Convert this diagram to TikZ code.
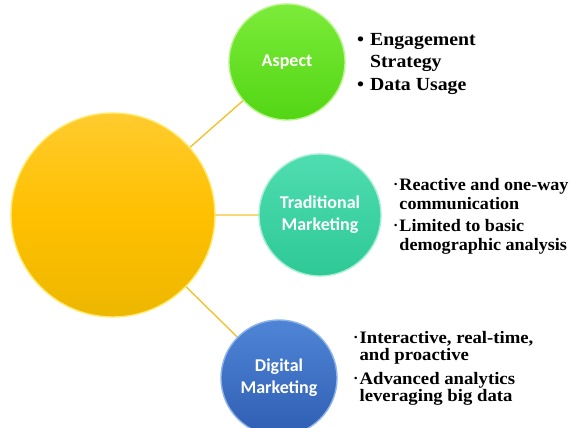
\documentclass[tikz,border=0pt]{standalone}
\usepackage{fontspec}
\setmainfont{Liberation Serif}
\newfontfamily\notefont[FakeStretch=1.07]{Liberation Serif}
\newfontfamily\notefontnarrow[FakeStretch=1.035]{Liberation Serif}
\newfontfamily\bubblefont{Carlito}
\usetikzlibrary{shadings}

\definecolor{goldA}{HTML}{FFCB2E}
\definecolor{goldB}{HTML}{FFC000}
\definecolor{goldC}{HTML}{EDB700}
\definecolor{goldRim}{HTML}{FFEA70}
\definecolor{greenA}{HTML}{7CEB3A}
\definecolor{greenB}{HTML}{52D614}
\definecolor{greenRim}{HTML}{B8F58A}
\definecolor{tealA}{HTML}{4FDDB0}
\definecolor{tealB}{HTML}{2EC896}
\definecolor{tealRim}{HTML}{A5F0D5}
\definecolor{blueA}{HTML}{4F85D6}
\definecolor{blueB}{HTML}{2F5EB2}
\definecolor{blueRim}{HTML}{8FB4EC}
\definecolor{linkgold}{HTML}{F2C230}

\tikzset{
  bubble/.style={circle, inner sep=0pt, minimum size=#1, line width=1.4pt,
    font=\bubblefont\bfseries\fontsize{18}{22}\selectfont, text=white, align=center},
  hub/.style={bubble=204pt, draw=goldRim, top color=goldA, bottom color=goldC, middle color=goldB},
  greenball/.style={bubble=116pt, draw=greenRim, top color=greenA, bottom color=greenB},
  tealball/.style={bubble=122pt, draw=tealRim, top color=tealA, bottom color=tealB},
  blueball/.style={bubble=116pt, draw=blueRim, top color=blueA, bottom color=blueB},
  link/.style={draw=linkgold, line width=1.4pt},
  notes/.style={anchor=base west, inner sep=0pt, align=left, text=black},
}

\newcommand{\bigdot}{\textbullet}
\newcommand{\smalldot}{\raisebox{0.25ex}{\fontsize{9}{9}\selectfont\textbullet}}

\begin{document}
\begin{tikzpicture}[x=1pt, y=-1pt]
  \useasboundingbox (0,0) rectangle (573,428);

  % connectors, drawn first so the circles sit on top
  \coordinate (hubc) at (113,215);
  \coordinate (aspc) at (287,62);
  \coordinate (tradc) at (320,215);
  \coordinate (digc) at (279,378);
  \path[link] (hubc) -- (aspc) (hubc) -- (tradc) (hubc) -- (digc);

  % circles
  \node[hub] (hub) at (hubc) {};
  \node[greenball] (aspect) at (aspc) {Aspect};
  \node[tealball] (trad) at (tradc) {Traditional\\Marketing};
  \node[blueball] (digital) at (digc) {Digital\\Marketing};

  % bullet lists
  \node[notes] (aspectnotes) at (357,46) {\notefont\fontsize{18.5}{21}\bfseries\selectfont
    \begin{tabular}[t]{@{}l@{\hspace{6pt}}l@{}}
      \bigdot & Engagement\\
              & Strategy\\[3pt]
      \bigdot & Data Usage
    \end{tabular}};

  \node[notes] (tradnotes) at (394,190) {\notefontnarrow\fontsize{17.5}{19}\bfseries\selectfont
    \begin{tabular}[t]{@{}l@{\hspace{2pt}}l@{}}
      \smalldot & Reactive and one-way\\
                & communication\\[3pt]
      \smalldot & Limited to basic\\
                & demographic analysis
    \end{tabular}};

  \node[notes] (dignotes) at (354,343) {\notefont\fontsize{17.5}{17.5}\bfseries\selectfont
    \begin{tabular}[t]{@{}l@{\hspace{2pt}}l@{}}
      \smalldot & Interactive, real-time,\\
                & and proactive\\[6pt]
      \smalldot & Advanced analytics\\
                & leveraging big data
    \end{tabular}};
\end{tikzpicture}
\end{document}
